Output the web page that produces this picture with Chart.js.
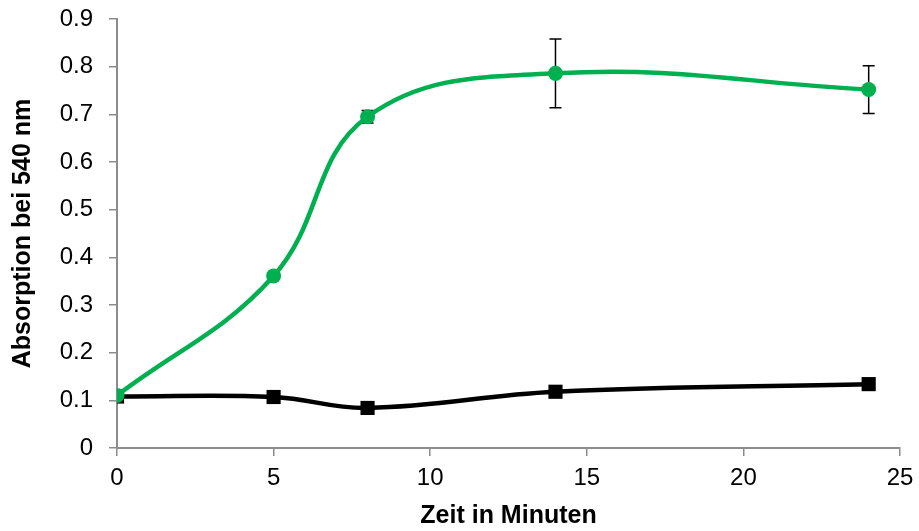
<!DOCTYPE html>
<html>
<head>
<meta charset="utf-8">
<script src="https://cdn.jsdelivr.net/npm/chart.js@4"></script>
<style>
  html, body { margin: 0; padding: 0; background: #fff; }
  #wrap { width: 919px; height: 531px; }
</style>
</head>
<body>
<div id="wrap"><canvas id="chart" width="919" height="531"></canvas></div>
<script>
// Messwerte
const timeMinutes = [0, 5, 8, 14, 24];
const greenValues = [0.110, 0.361, 0.695, 0.786, 0.752];
const greenErrors = [0, 0, 0.013, 0.072, 0.050];
const blackValues = [0.108, 0.107, 0.084, 0.118, 0.134];
const xTicks = [0, 5, 10, 15, 20, 25];
const yTicks = [0, 0.1, 0.2, 0.3, 0.4, 0.5, 0.6, 0.7, 0.8, 0.9];

const green = 'rgb(0,176,80)';
const axisGrey = '#8c8c8c';

const toPoints = (vals) => timeMinutes.map((t, i) => ({ x: t, y: vals[i] }));

// error bars drawn with the chart's own scales
const errorBars = {
    id: 'errorBars',
    beforeDatasetsDraw(chart) {
        const ctx = chart.ctx;
        const xs = chart.scales.x;
        const ys = chart.scales.y;
        ctx.save();
        ctx.strokeStyle = '#000';
        ctx.lineWidth = 1.5;
        timeMinutes.forEach((t, i) => {
            if (!greenErrors[i]) return;
            const px = xs.getPixelForValue(t);
            const top = ys.getPixelForValue(greenValues[i] + greenErrors[i]);
            const bot = ys.getPixelForValue(greenValues[i] - greenErrors[i]);
            ctx.beginPath();
            ctx.moveTo(px, top);
            ctx.lineTo(px, bot);
            ctx.moveTo(px - 6, top);
            ctx.lineTo(px + 6, top);
            ctx.moveTo(px - 6, bot);
            ctx.lineTo(px + 6, bot);
            ctx.stroke();
        });
        ctx.restore();
    }
};

const tickFont = { family: 'Liberation Sans, Arial, sans-serif', size: 24 };
const titleFont = { family: 'Liberation Sans, Arial, sans-serif', size: 25, weight: 'bold' };

new Chart(document.getElementById('chart'), {
    type: 'line',
    data: {
        datasets: [
            {
                label: 'Probe',
                data: toPoints(greenValues),
                borderColor: green,
                backgroundColor: green,
                borderWidth: 4.5,
                pointStyle: 'circle',
                pointRadius: 7.5,
                pointBorderWidth: 0,
                tension: 0.4,
                order: 0
            },
            {
                label: 'Kontrolle',
                data: toPoints(blackValues),
                borderColor: '#000',
                backgroundColor: '#000',
                borderWidth: 4.5,
                pointStyle: 'rect',
                pointRadius: 10,
                pointBorderWidth: 0,
                tension: 0.4,
                order: 1
            }
        ]
    },
    options: {
        responsive: false,
        animation: false,
        layout: { padding: { left: 8, right: 19, top: 19, bottom: 0 } },
        plugins: {
            legend: { display: false },
            tooltip: { enabled: false }
        },
        scales: {
            x: {
                type: 'linear',
                min: 0,
                max: 25,
                afterBuildTicks: (scale) => { scale.ticks = xTicks.map(v => ({ value: v })); },
                afterFit: (scale) => { scale.height = 83; scale.paddingRight = 0; },
                ticks: { color: '#000', font: tickFont, padding: 8, maxRotation: 0 },
                grid: { drawOnChartArea: false, drawTicks: true, tickLength: 8, color: axisGrey, lineWidth: 1.5 },
                border: { color: axisGrey, width: 2 },
                title: { display: true, text: 'Zeit in Minuten', color: '#000', font: titleFont, padding: { top: 2, bottom: 0 } }
            },
            y: {
                min: 0,
                max: 0.9,
                afterBuildTicks: (scale) => { scale.ticks = yTicks.map(v => ({ value: v })); },
                afterFit: (scale) => { scale.width = 109; scale.paddingTop = 0; scale.paddingBottom = 0; },
                ticks: { color: '#000', font: tickFont, padding: 16, callback: (v) => String(Math.round(v * 10) / 10) },
                grid: { drawOnChartArea: false, drawTicks: true, tickLength: 8, color: axisGrey, lineWidth: 1.5 },
                border: { color: axisGrey, width: 2 },
                title: { display: true, text: 'Absorption bei 540 nm', color: '#000', font: titleFont, padding: { top: 0, bottom: 6 } }
            }
        }
    },
    plugins: [errorBars]
});
</script>
</body>
</html>
